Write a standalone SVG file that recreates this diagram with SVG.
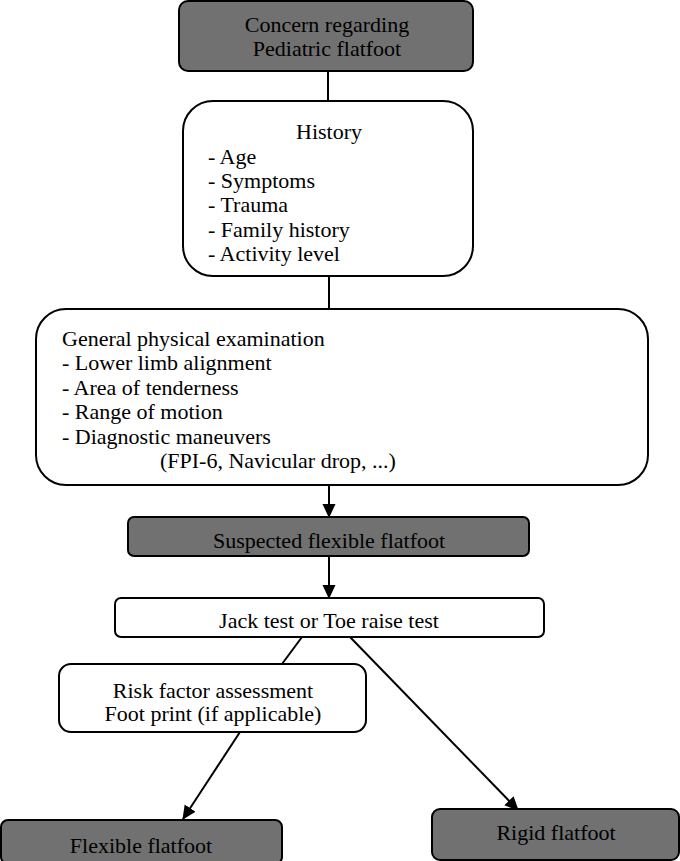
<svg xmlns="http://www.w3.org/2000/svg" width="680" height="861" viewBox="0 0 680 861">
<defs>
<marker id="ah" markerWidth="14" markerHeight="14" viewBox="0 0 14 14" refX="13" refY="7" orient="auto" markerUnits="userSpaceOnUse">
<path d="M0,0.5 L14,7 L0,13.5 Z" fill="#000"/>
</marker>
<style>
.dark{fill:#717171;stroke:#000;stroke-width:2}
.light{fill:#fff;stroke:#000;stroke-width:2}
text{font-family:"Liberation Serif","DejaVu Serif",serif;font-size:22px;fill:#000}
.c{text-anchor:middle}
.ln{stroke:#000;stroke-width:2;fill:none}
</style>
</defs>
<rect width="680" height="861" fill="#fff"/>
<g id="connectors">
<line class="ln" x1="328" y1="71" x2="328" y2="101"/>
<line class="ln" x1="329" y1="276" x2="329" y2="309"/>
<line class="ln" x1="329" y1="485" x2="329" y2="517" marker-end="url(#ah)"/>
<line class="ln" x1="329" y1="556" x2="329" y2="598" marker-end="url(#ah)"/>
<line class="ln" x1="302" y1="637" x2="282" y2="664"/>
<line class="ln" x1="240" y1="732" x2="183" y2="819" marker-end="url(#ah)"/>
<line class="ln" x1="350" y1="637" x2="518" y2="810" marker-end="url(#ah)"/>
</g>
<g id="concern">
<rect class="dark" x="179" y="1" width="294" height="70" rx="9"/>
<text class="c" x="327" y="32">Concern regarding</text>
<text class="c" x="327" y="56">Pediatric flatfoot</text>
</g>
<g id="history">
<rect class="light" x="183" y="101" width="290" height="175" rx="30"/>
<text class="c" x="329" y="139">History</text>
<text x="208" y="164">- Age</text>
<text x="208" y="188">- Symptoms</text>
<text x="208" y="212">- Trauma</text>
<text x="208" y="237">- Family history</text>
<text x="208" y="261">- Activity level</text>
</g>
<g id="exam">
<rect class="light" x="36" y="309" width="612" height="176" rx="30"/>
<text x="62" y="346">General physical examination</text>
<text x="62" y="370">- Lower limb alignment</text>
<text x="62" y="395">- Area of tenderness</text>
<text x="62" y="419">- Range of motion</text>
<text x="62" y="444">- Diagnostic maneuvers</text>
<text x="160" y="468">(FPI-6, Navicular drop, ...)</text>
</g>
<g id="suspected">
<rect class="dark" x="128" y="517" width="401" height="39" rx="6"/>
<text class="c" x="329" y="548">Suspected flexible flatfoot</text>
</g>
<g id="jack">
<rect class="light" x="115" y="598" width="429" height="39" rx="6"/>
<text class="c" x="329" y="628">Jack test or Toe raise test</text>
</g>
<g id="risk">
<rect class="light" x="59" y="664" width="307" height="68" rx="12"/>
<text class="c" x="213" y="698">Risk factor assessment</text>
<text class="c" x="213" y="721">Foot print (if applicable)</text>
</g>
<g id="flexible">
<rect class="dark" x="1" y="820" width="281" height="44" rx="7"/>
<text class="c" x="141" y="853">Flexible flatfoot</text>
</g>
<g id="rigid">
<rect class="dark" x="432" y="809" width="247" height="51" rx="8"/>
<text class="c" x="556" y="840">Rigid flatfoot</text>
</g>
</svg>
